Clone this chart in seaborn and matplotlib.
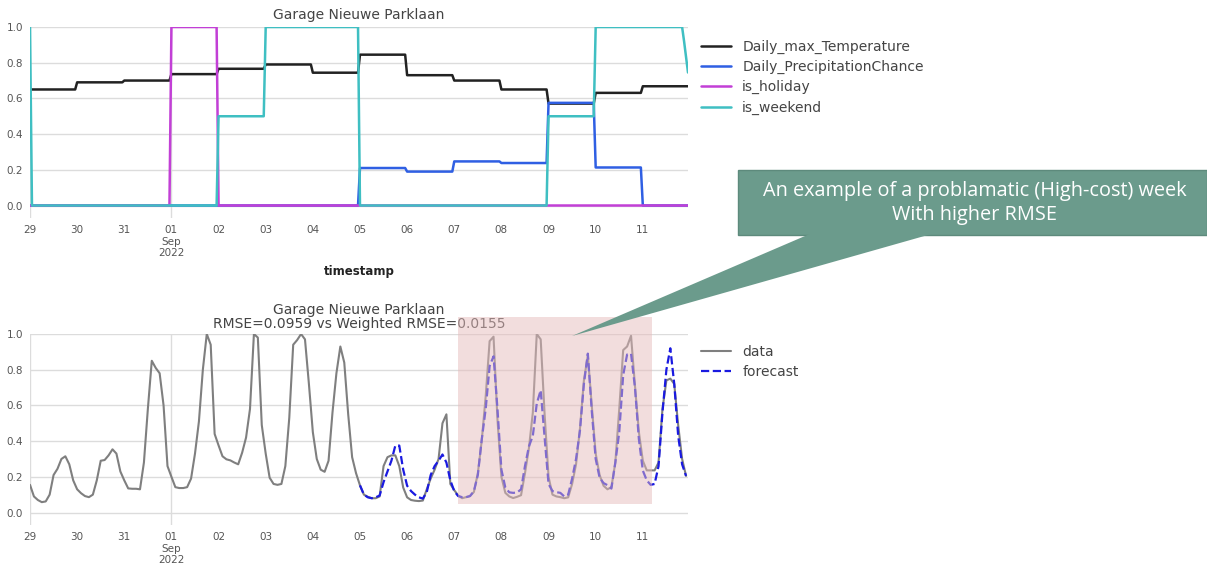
import numpy as np
import pandas as pd
import matplotlib
matplotlib.use("Agg")
import matplotlib.pyplot as plt
import matplotlib.dates as mdates
from matplotlib.patches import Rectangle, Polygon
import seaborn as sns

# ---------------- data ----------------
day_start = "2022-08-29"
n_days = 14

# daily feature values (Aug 29 .. Sep 11)
daily_max_temperature = [0.65, 0.69, 0.70, 0.736, 0.766, 0.79, 0.744,
                         0.845, 0.73, 0.70, 0.65, 0.571, 0.631, 0.668]
daily_precipitation_chance = [0, 0, 0, 0, 0, 0, 0,
                              0.21, 0.19, 0.247, 0.238, 0.575, 0.213, 0]
is_holiday = [0, 0, 0, 1, 0, 0, 0, 0, 0, 0, 0, 0, 0, 0]
is_weekend = [0, 0, 0, 0, 0.5, 1, 1, 0, 0, 0, 0, 0.5, 1, 1]
weekend_first_hour = 1.0
weekend_last_hours = [0.92, 0.83, 0.745]

feature_names = ["Daily_max_Temperature", "Daily_PrecipitationChance",
                 "is_holiday", "is_weekend"]
feature_colors = ["#222222", "#2f5fe3", "#c23fd6", "#3fbfc2"]

# 2-hourly occupancy (Aug 29 00:00 .. Sep 11 22:00)
occupancy_data = [
    0.155, 0.09, 0.07, 0.058, 0.062, 0.10, 0.21, 0.245, 0.30, 0.315, 0.27, 0.18,
    0.13, 0.108, 0.092, 0.086, 0.10, 0.18, 0.29, 0.294, 0.32, 0.354, 0.33, 0.23,
    0.18, 0.135, 0.133, 0.133, 0.13, 0.28, 0.58, 0.85, 0.81, 0.78, 0.60, 0.26,
    0.20, 0.142, 0.137, 0.137, 0.142, 0.19, 0.33, 0.51, 0.80, 1.0, 0.94, 0.44,
    0.376, 0.315, 0.298, 0.292, 0.28, 0.27, 0.335, 0.42, 0.58, 1.0, 0.98, 0.49,
    0.33, 0.195, 0.16, 0.155, 0.16, 0.26, 0.53, 0.94, 0.966, 1.0, 0.97, 0.72,
    0.45, 0.30, 0.24, 0.228, 0.29, 0.56, 0.78, 0.93, 0.84, 0.55, 0.31, 0.22,
    0.152, 0.10, 0.088, 0.08, 0.08, 0.09, 0.26, 0.31, 0.32, 0.32, 0.26, 0.14,
    0.085, 0.07, 0.066, 0.064, 0.067, 0.13, 0.19, 0.24, 0.30, 0.50, 0.55, 0.16,
    0.125, 0.095, 0.08, 0.086, 0.092, 0.115, 0.22, 0.404, 0.65, 0.96, 0.985, 0.52,
    0.20, 0.11, 0.09, 0.081, 0.088, 0.097, 0.22, 0.36, 0.56, 1.0, 0.97, 0.55,
    0.20, 0.10, 0.09, 0.086, 0.08, 0.085, 0.16, 0.27, 0.47, 0.74, 0.88, 0.60,
    0.33, 0.21, 0.15, 0.13, 0.142, 0.28, 0.58, 0.91, 0.93, 0.99, 0.71, 0.45,
    0.29, 0.236, 0.236, 0.236, 0.28, 0.58, 0.74, 0.75, 0.72, 0.49, 0.30, 0.205,
]
forecast_start = "2022-09-05"
occupancy_forecast = [
    0.152, 0.10, 0.085, 0.08, 0.085, 0.095, 0.17, 0.23, 0.29, 0.375, 0.375, 0.24,
    0.15, 0.12, 0.10, 0.085, 0.078, 0.114, 0.21, 0.26, 0.29, 0.325, 0.28, 0.18,
    0.12, 0.092, 0.086, 0.086, 0.092, 0.12, 0.21, 0.41, 0.58, 0.82, 0.875, 0.58,
    0.24, 0.14, 0.113, 0.11, 0.112, 0.13, 0.26, 0.37, 0.43, 0.61, 0.685, 0.42,
    0.16, 0.12, 0.114, 0.11, 0.09, 0.10, 0.19, 0.30, 0.46, 0.72, 0.89, 0.57,
    0.30, 0.195, 0.165, 0.153, 0.134, 0.28, 0.45, 0.77, 0.885, 0.89, 0.70, 0.41,
    0.235, 0.18, 0.155, 0.16, 0.26, 0.56, 0.80, 0.92, 0.72, 0.43, 0.27, 0.205,
]

tick_labels = ["29", "30", "31", "01\nSep\n2022", "02", "03", "04", "05",
               "06", "07", "08", "09", "10", "11"]
y_ticks = [0.0, 0.2, 0.4, 0.6, 0.8, 1.0]

title_top = "Garage Nieuwe Parklaan"
title_bottom = "Garage Nieuwe Parklaan\nRMSE=0.0959 vs Weighted RMSE=0.0155"
callout_text = "An example of a problamatic (High-cost) week\nWith higher RMSE"
highlight_start = "2022-09-07 02:00"
highlight_end = "2022-09-11 04:30"
highlight_y = (0.05, 1.095)

# ---------------- style ----------------
sns.set_theme(style="whitegrid")
plt.rcParams["font.family"] = ["DejaVu Sans"]

W, H = 1207, 572
fig = plt.figure(figsize=(W / 100, H / 100), dpi=100)
fig.patch.set_facecolor("white")
ax1 = fig.add_axes([30 / W, 1 - 218 / H, 658 / W, 191 / H])
ax2 = fig.add_axes([30 / W, 1 - 525 / H, 658 / W, 191 / H])

# ---------------- top chart ----------------
hours = pd.date_range(day_start, periods=n_days * 24, freq="h")
weekend_hourly = np.repeat(np.array(is_weekend, dtype=float), 24)
weekend_hourly[0] = weekend_first_hour
weekend_hourly[-len(weekend_last_hours):] = weekend_last_hours
feat = pd.DataFrame({
    "timestamp": hours,
    feature_names[0]: np.repeat(daily_max_temperature, 24),
    feature_names[1]: np.repeat(daily_precipitation_chance, 24),
    feature_names[2]: np.repeat(is_holiday, 24).astype(float),
    feature_names[3]: weekend_hourly,
})
feat_long = feat.melt("timestamp", var_name="feature", value_name="value")
sns.lineplot(data=feat_long, x="timestamp", y="value", hue="feature",
             hue_order=feature_names, palette=feature_colors,
             estimator=None, linewidth=1.8, ax=ax1)

# ---------------- bottom chart ----------------
occ = pd.DataFrame({
    "timestamp": pd.date_range(day_start, periods=len(occupancy_data), freq="2h"),
    "value": occupancy_data,
})
fc = pd.DataFrame({
    "timestamp": pd.date_range(forecast_start, periods=len(occupancy_forecast), freq="2h"),
    "value": occupancy_forecast,
})
sns.lineplot(data=occ, x="timestamp", y="value", color="#7f7f7f",
             linewidth=1.5, label="data", estimator=None, ax=ax2)
sns.lineplot(data=fc, x="timestamp", y="value", color="#1a1ae0",
             linewidth=1.6, linestyle="--", label="forecast", estimator=None, ax=ax2)

tick_days = pd.date_range(day_start, periods=n_days, freq="D")
for ax in (ax1, ax2):
    ax.set_xlim(hours[0], hours[-1])
    ax.set_ylim(-0.07, 1.0)
    ax.set_xticks(tick_days)
    ax.set_xticklabels(tick_labels)
    ax.set_yticks(y_ticks)
    ax.set_yticklabels([f"{v:.1f}" for v in y_ticks])
    ax.grid(axis="x", visible=False)
    ax.grid(axis="y", color="#dcdcdc", linewidth=1.0)
    for d in ("2022-08-29", "2022-09-01"):
        ax.axvline(pd.Timestamp(d), color="#dcdcdc", linewidth=1.0, zorder=0.5)
    for s in ax.spines.values():
        s.set_visible(False)
    ax.tick_params(axis="both", labelsize=7.5, colors="#555555", length=0, pad=5)
    ax.set_ylabel("")
    ax.set_facecolor("white")

ax1.set_xlabel("timestamp", fontsize=8.5, fontweight="bold", color="#222222", labelpad=5)
ax2.set_xlabel("")
ax1.set_title(title_top, fontsize=10, color="#444444", pad=6)
ax2.set_title(title_bottom, fontsize=10, color="#444444", pad=4, linespacing=1.05)

h1, l1 = ax1.get_legend_handles_labels()
ax1.legend(h1, l1, loc="upper left", bbox_to_anchor=(1.0, 1.0), frameon=False,
           fontsize=10, labelcolor="#444444", handlelength=2.2, labelspacing=0.45,
           handletextpad=0.8)
h2, l2 = ax2.get_legend_handles_labels()
ax2.legend(h2, l2, loc="upper left", bbox_to_anchor=(1.0, 1.01), frameon=False,
           fontsize=10, labelcolor="#444444", handlelength=2.2, labelspacing=0.45,
           handletextpad=0.8)

# ---------------- highlight & callout ----------------
x0 = mdates.date2num(pd.Timestamp(highlight_start))
x1 = mdates.date2num(pd.Timestamp(highlight_end))
fig.add_artist(Rectangle((x0, highlight_y[0]), x1 - x0, highlight_y[1] - highlight_y[0],
                         transform=ax2.transData, facecolor="#e6bcbc", alpha=0.5,
                         edgecolor="none", zorder=5))

callout_color = "#6b9b8c"
fig.add_artist(Rectangle((738 / W, 1 - 235 / H), (W - 738) / W, 65 / H,
                         transform=fig.transFigure, facecolor=callout_color,
                         edgecolor="#5d8a7c", linewidth=1.0, zorder=6))
fig.add_artist(Polygon([(812 / W, 1 - 233 / H), (935 / W, 1 - 233 / H), (572 / W, 1 - 336 / H)],
                       closed=True, transform=fig.transFigure, facecolor=callout_color,
                       edgecolor="none", zorder=6.5))
fig.text(975 / W, 1 - 203 / H, callout_text, ha="center", va="center", color="white",
         fontsize=14.3, family=["Open Sans", "DejaVu Sans"], linespacing=1.32, zorder=7)

fig.savefig("out.png", dpi=100, facecolor="white")
